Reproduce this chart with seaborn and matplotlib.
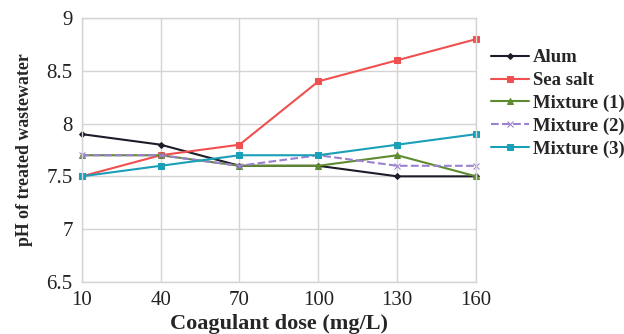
import matplotlib
matplotlib.use('Agg')
import matplotlib.pyplot as plt
import pandas as pd
import seaborn as sns

sns.set_style("whitegrid")
plt.rcParams['font.family'] = ['Liberation Serif', 'DejaVu Serif']

# data
dose = [10, 40, 70, 100, 130, 160]
alum = [7.9, 7.8, 7.6, 7.6, 7.5, 7.5]
sea_salt = [7.5, 7.7, 7.8, 8.4, 8.6, 8.8]
mixture_1 = [7.7, 7.7, 7.6, 7.6, 7.7, 7.5]
mixture_2 = [7.7, 7.7, 7.6, 7.7, 7.6, 7.6]
mixture_3 = [7.5, 7.6, 7.7, 7.7, 7.8, 7.9]

series = [
    ('Alum', alum, '#1c1c2a', 'D', '-', 3),
    ('Sea salt', sea_salt, '#f0504f', 's', '-', 5),
    ('Mixture (1)', mixture_1, '#5e8b2f', '^', '-', 4),
    ('Mixture (2)', mixture_2, '#9a80cf', 'x', '--', 4),
    ('Mixture (3)', mixture_3, '#1a9fb8', 's', '-', 5),
]

fig = plt.figure(figsize=(6.24, 3.34), dpi=100)
ax = fig.add_axes([0.131, 0.156, 0.632, 0.79])

for name, vals, col, mk, ls, ms in series:
    df = pd.DataFrame({'dose': dose, 'pH': vals})
    sns.lineplot(data=df, x='dose', y='pH', ax=ax, color=col, marker=mk,
                 linestyle=ls, markersize=ms, linewidth=1.5, label=name,
                 markeredgecolor=col, clip_on=False)

ax.set_xlim(10, 160)
ax.set_ylim(6.5, 9)
ax.set_xticks(dose)
ax.set_yticks([6.5, 7, 7.5, 8, 8.5, 9])
ax.set_yticklabels(['6.5', '7', '7.5', '8', '8.5', '9'])
ax.tick_params(labelsize=15, colors='#222222', pad=3)
ax.grid(True, color='#d4d4d4', linewidth=1)
for s in ax.spines.values():
    s.set_color('#d4d4d4')
    s.set_linewidth(1)

ax.set_xlabel('Coagulant dose (mg/L)', fontsize=16, fontweight='bold', labelpad=3)
ax.set_ylabel('pH of treated wastewater', fontsize=12.8, fontweight='bold', labelpad=10)

leg = ax.legend(loc='upper left', bbox_to_anchor=(1.02, 0.91), frameon=False,
                prop={'weight': 'bold', 'size': 13.5}, handlelength=2.0,
                handletextpad=0.2, labelspacing=0.3, borderaxespad=0.0)

fig.savefig('out.png', dpi=100)
